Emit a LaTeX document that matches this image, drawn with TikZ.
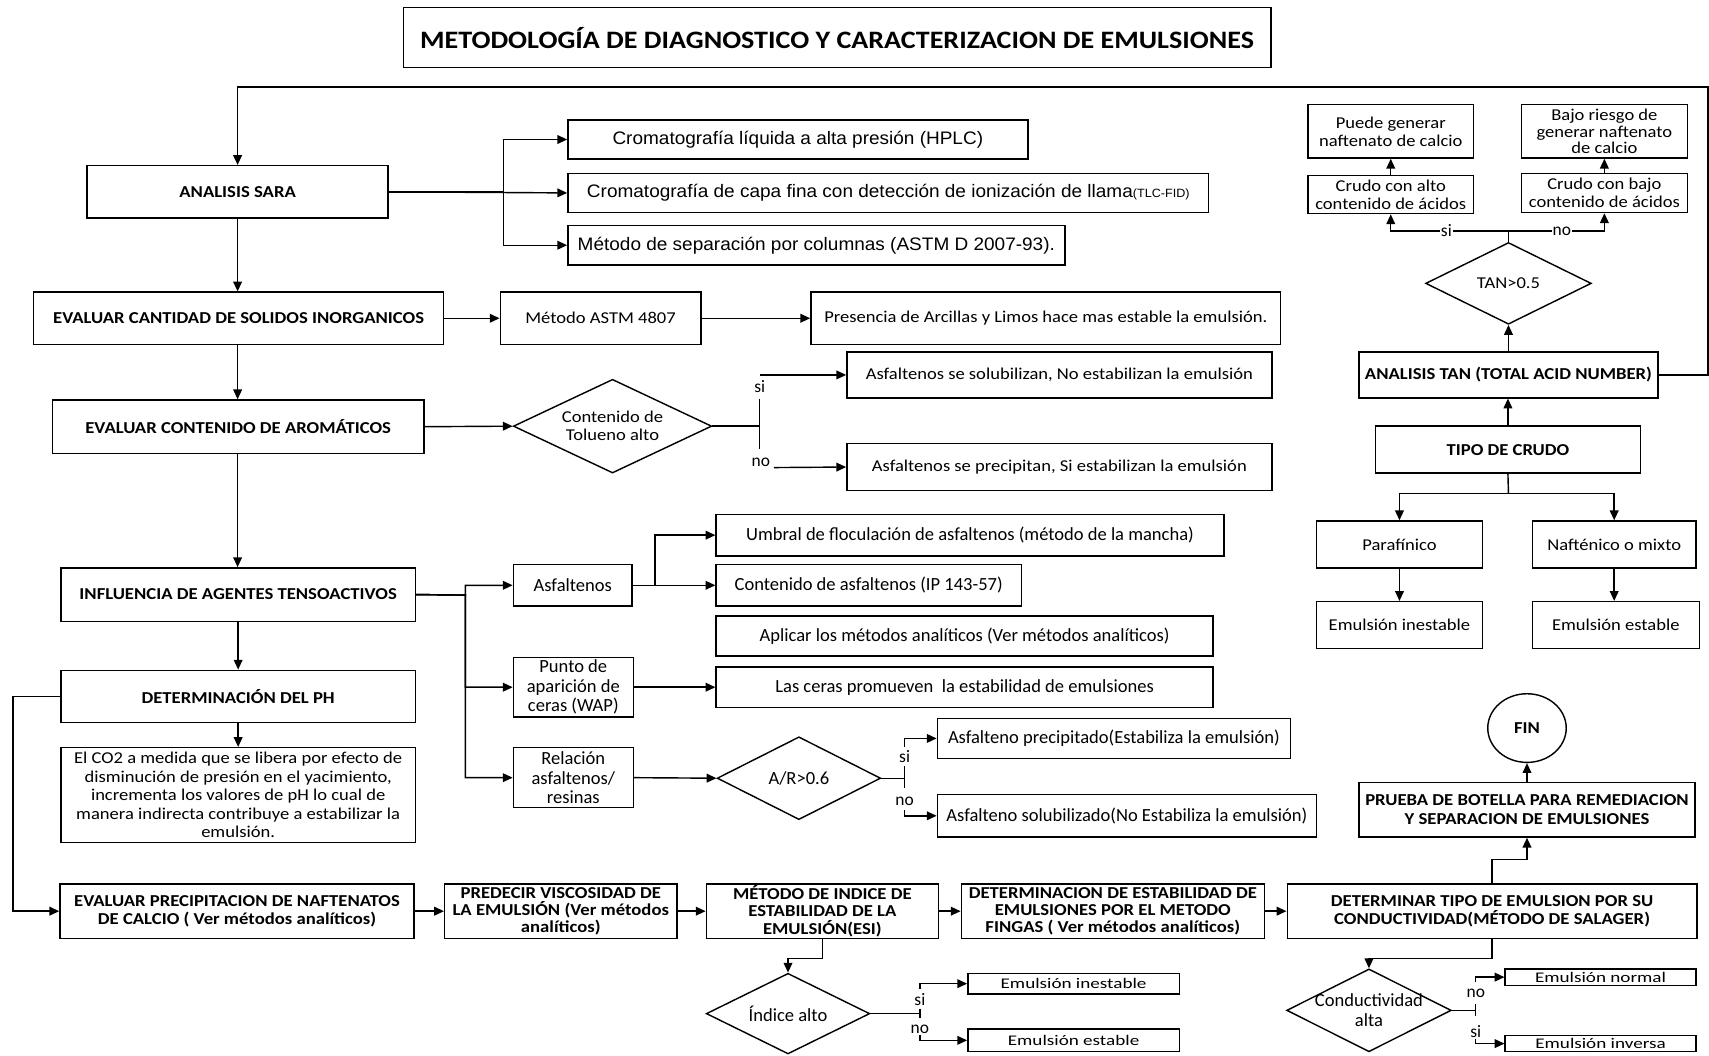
\documentclass[tikz,border=0pt]{standalone}
\usepackage{fontspec}
\setmainfont{Carlito}[FakeStretch=1.12]
\newfontfamily\arialn[FakeStretch=1.05]{Liberation Sans}
\newfontfamily\calcond{Carlito}
\newfontfamily\calwide[FakeStretch=1.3]{Carlito}
\usetikzlibrary{arrows.meta,shapes.geometric,calc}
\tikzset{
  bx/.style={draw, rectangle, line width=1.3pt, inner sep=0pt, align=center},
  dia/.style={draw, diamond, line width=1.3pt, inner sep=0pt},
  arr/.style={-{Triangle[length=9pt,width=8pt]}, line width=1.3pt},
  ln/.style={line width=1.3pt},
  bfs/.style={font=\fontsize{15.3}{17}\selectfont\bfseries},
  bft/.style={font=\fontsize{15.3}{15.8}\selectfont\bfseries},
  nrm/.style={font=\fontsize{15.2}{16.5}\selectfont},
  nrmb/.style={font=\fontsize{15.2}{17}\selectfont},
  cnd/.style={font=\calcond\fontsize{17}{18}\selectfont},
  wid/.style={font=\calwide\fontsize{13.5}{15}\selectfont},
  ari/.style={font=\arialn\fontsize{16.6}{19}\selectfont},
  lbl/.style={font=\calcond\fontsize{16}{18}\selectfont, inner sep=0pt},
  thin/.style={text height=9pt, text depth=0pt},
}
\newcommand{\bxn}[7][]{%
  \pgfmathsetmacro\bw{#5-#3}\pgfmathsetmacro\bh{#6-#4}%
  \pgfmathsetmacro\bcx{(#3+#5)/2}\pgfmathsetmacro\bcy{(#4+#6)/2}%
  \node[bx,#1,minimum width=\bw pt,minimum height=\bh pt] (#2) at (\bcx,\bcy) {#7};}
\newcommand{\dian}[7][]{%
  \node[dia,minimum width=#5pt,minimum height=#6pt] (#2) at (#3,#4) {};
  \node[#1, align=center, inner sep=0pt] (#2-t) at (#2.center) {#7};}
\begin{document}
\begin{tikzpicture}[x=1pt,y=-1pt]
\useasboundingbox (0,0) rectangle (1568,968);
% title
\bxn[font=\fontsize{23}{25}\selectfont\bfseries]{title}{370}{7}{1166}{62}{METODOLOGÍA DE DIAGNOSTICO Y CARACTERIZACION DE EMULSIONES}
% left column
\bxn[bfs]{sara}{80}{152}{356}{200}{ANALISIS SARA}
\bxn[bfs]{cant}{31}{268}{407}{316}{EVALUAR CANTIDAD DE SOLIDOS INORGANICOS}
\bxn[bfs]{arom}{48}{367}{389}{416}{EVALUAR CONTENIDO DE AROMÁTICOS}
\bxn[bfs]{infl}{56}{521}{381}{570}{INFLUENCIA DE AGENTES TENSOACTIVOS}
\bxn[bfs]{ph}{56}{615}{381}{663}{DETERMINACIÓN DEL PH}
\bxn[nrmb]{co2}{56}{686}{381}{773}{El CO2 a medida que se libera por efecto de\\disminución de presión en el yacimiento,\\incrementa los valores de pH lo cual de\\manera indirecta contribuye a estabilizar la\\emulsión.}
% SARA methods
\bxn[ari]{hplc}{521}{110}{943}{146}{Cromatografía líquida a alta presión (HPLC)}
\bxn[ari]{tlc}{521}{159}{1109}{195}{Cromatografía de capa fina con detección de ionización de llama{\fontsize{11}{12}\selectfont(TLC-FID)}}
\bxn[ari]{sep}{521}{207}{977}{243}{Método de separación por columnas (ASTM D 2007-93).}
% solids
\bxn[nrm]{astm}{459}{268}{643}{316}{Método ASTM 4807}
\bxn[nrm]{pres}{744}{268}{1175}{316}{Presencia de Arcillas y Limos hace mas estable la emulsión.}
% aromatics
\dian[nrm]{tol}{562}{391}{182}{86}{Contenido de\\Tolueno alto}
\bxn[nrm]{solub}{777}{323}{1167}{365}{Asfaltenos se solubilizan, No estabilizan la emulsión}
\bxn[nrm]{precp}{777}{407}{1167}{450}{Asfaltenos se precipitan, Si estabilizan la emulsión}
% tensoactivos
\bxn[cnd]{asf}{471}{518}{580}{556}{Asfaltenos}
\bxn[cnd]{umbral}{657}{472}{1123}{510}{Umbral de floculación de asfaltenos (método de la mancha)}
\bxn[cnd]{contasf}{657}{518}{937}{556}{Contenido de asfaltenos (IP 143-57)}
\bxn[cnd]{aplicar}{657}{565}{1113}{602}{Aplicar los métodos analíticos (Ver métodos analíticos)}
\bxn[cnd]{punto}{471}{603}{581}{658}{Punto de\\aparición de\\ceras (WAP)}
\bxn[cnd]{ceras}{657}{612}{1113}{649}{Las ceras promueven \ la estabilidad de emulsiones}
\bxn[cnd]{rel}{471}{686}{581}{741}{Relación\\asfaltenos/\\resinas}
\dian[cnd]{ar}{733}{714}{150}{76}{A/R>0.6}
\bxn[cnd]{aprec}{860}{659}{1184}{696}{Asfalteno precipitado(Estabiliza la emulsión)}
\bxn[cnd]{asol}{860}{729}{1208}{768}{Asfalteno solubilizado(No Estabiliza la emulsión)}
% bottom row
\bxn[bft]{precip}{55}{811}{380}{861}{EVALUAR PRECIPITACION DE NAFTENATOS\\DE CALCIO ( Ver métodos analíticos)}
\bxn[bft]{pred}{408}{811}{621}{861}{PREDECIR VISCOSIDAD DE\\LA EMULSIÓN (Ver métodos\\analíticos)}
\bxn[bft]{metodo}{648}{811}{861}{861}{MÉTODO DE INDICE DE\\ESTABILIDAD DE LA\\EMULSIÓN(ESI)}
\bxn[bft]{fingas}{882}{811}{1160}{861}{DETERMINACION DE ESTABILIDAD DE\\EMULSIONES POR EL METODO\\FINGAS ( Ver métodos analíticos)}
\bxn[bft]{tipo}{1181}{811}{1557}{861}{DETERMINAR TIPO DE EMULSION POR SU\\CONDUCTIVIDAD(MÉTODO DE SALAGER)}
\dian[cnd]{idx}{723}{930}{150}{74}{Índice alto}
\bxn[wid,thin]{einest}{888}{893}{1082}{912}{Emulsión inestable}
\bxn[wid,thin]{eest}{888}{944}{1082}{965}{Emulsión estable}
\dian[cnd]{cond}{1256}{927}{151}{76}{Conductividad\\alta}
\bxn[wid,thin]{enorm}{1381}{889}{1556}{904}{Emulsión normal}
\bxn[wid,thin]{einv}{1381}{950}{1556}{965}{Emulsión inversa}
% right side
\bxn[bfs]{tan}{1247}{323}{1521}{365}{ANALISIS TAN (TOTAL ACID NUMBER)}
\dian[nrm]{tand}{1384}{260}{152}{75}{TAN>0.5}
\bxn[nrm]{calto}{1200}{161}{1352}{196}{Crudo con alto\\contenido de ácidos}
\bxn[nrm]{puede}{1200}{96}{1352}{145}{Puede generar\\naftenato de calcio}
\bxn[nrm]{cbajo}{1396}{159}{1548}{195}{Crudo con bajo\\contenido de ácidos}
\bxn[font=\fontsize{15.2}{15.2}\selectfont]{bajo}{1396}{96}{1548}{145}{Bajo riesgo de\\generar naftenato\\de calcio}
\bxn[bfs]{tipoc}{1262}{391}{1505}{434}{TIPO DE CRUDO}
\bxn[nrm]{paraf}{1208}{478}{1360}{521}{Parafínico}
\bxn[nrm]{naft}{1406}{478}{1556}{521}{Nafténico o mixto}
\bxn[nrm]{rinest}{1208}{552}{1360}{595}{Emulsión inestable}
\bxn[nrm]{rest}{1406}{552}{1559}{595}{Emulsión estable}
\node[draw, ellipse, line width=1.3pt, minimum width=72pt, minimum height=63pt, inner sep=0pt, bfs] (fin) at (1401,668) {FIN};
\bxn[bfs]{prueba}{1247}{718}{1555}{768}{PRUEBA DE BOTELLA PARA REMEDIACION\\Y SEPARACION DE EMULSIONES}
% ---------- connectors
\draw[arr] (tan.east) -- (1567,344) -- (1567,80) -- (218,80) -- (sara.north);
\draw[arr] (sara.east) -- (tlc.west);
\draw[arr] (sara.east) -- (462,176) |- (hplc.west);
\draw[arr] (sara.east) -- (462,176) |- (sep.west);
\draw[arr] (sara.south) -- (cant.north -| sara.south);
\draw[arr] (cant.east) -- (astm.west);
\draw[arr] (astm.east) -- (pres.west);
\draw[arr] (cant.south -| sara.south) -- (arom.north -| sara.south);
\draw[arr] (arom.east) -- (tol.west);
\draw[ln] (tol.east) -- (697,391);
\draw[ln] (697,366) -- (697,412);
\node[lbl] (tsi) at (697,355) {si};
\node[lbl] (tno) at (698,424) {no};
\draw[arr] (697,344) -- (solub.west);
\draw[arr] (710,429) -- (precp.west);
\draw[arr] (arom.south -| sara.south) -- (infl.north -| sara.south);
\draw[arr] (infl.east) -- (427,546) |- (asf.west);
\draw[arr] (infl.east) -- (427,546) |- (punto.west);
\draw[arr] (infl.east) -- (427,546) |- (rel.west);
\draw[arr] (asf.east) -- (contasf.west);
\draw[arr] (asf.east) -- (601,537) |- (umbral.west);
\draw[arr] (punto.east) -- (ceras.west);
\draw[arr] (rel.east) -- (ar.west);
\draw[ln] (ar.east) -- (830,714);
\draw[ln] (830,703) -- (830,723);
\node[lbl] (asi) at (830,694) {si};
\node[lbl] (ano) at (830,735) {no};
\draw[arr] (830,685) -- (830,677.5) -- (aprec.west);
\draw[arr] (830,743) -- (830,748.5) -- (asol.west);
\draw[arr] (infl.south) -- (ph.north);
\draw[arr] (ph.south) -- (co2.north);
\draw[arr] (ph.west) -- (12,639) |- (precip.west);
\draw[arr] (precip.east) -- (pred.west);
\draw[arr] (pred.east) -- (metodo.west);
\draw[arr] (metodo.east) -- (fingas.west);
\draw[arr] (fingas.east) -- (tipo.west);
\draw[arr] (metodo.south) -- ++(0,18) -| (idx.north);
\draw[ln] (idx.east) -- (844,930);
\draw[ln] (844,926) -- (844,934);
\node[lbl] (isi) at (844,917) {si};
\node[lbl] (ino) at (844,944) {no};
\draw[arr] (844,907) -- (844,902.5) -- (einest.west);
\draw[arr] (844,950) -- (844,954.5) -- (eest.west);
\draw[arr] (tipo.south) -- ++(0,18) -| (cond.north);
\draw[ln] (cond.east) -- (1354,927);
\draw[ln] (1354,921) -- (1354,932);
\node[lbl] (cno) at (1354,911) {no};
\node[lbl] (csi) at (1354,946) {si};
\draw[arr] (1354,901) -- (1354,896.5) -- (enorm.west);
\draw[arr] (1354,953) -- (1354,957.5) -- (einv.west);
\draw[arr] (tipo.north) -- ++(0,-22) -| (prueba.south);
\draw[arr] (prueba.north) -- (fin.south);
% right side connectors
\draw[arr] (tipoc.north) -- (tan.south -| tipoc.north);
\draw[arr] (tan.north) -- (tand.south);
\draw[ln] (tand.north) -- (1384,212);
\draw[arr] (1384,212) -| (calto.south);
\draw[arr] (1384,212) -| (cbajo.south);
\node[lbl, fill=white, inner xsep=1pt] (rsi) at (1327,212) {si};
\node[lbl, fill=white, inner xsep=1pt] (rno) at (1433,212) {no};
\draw[arr] (calto.north) -- (puede.south);
\draw[arr] (cbajo.north) -- (bajo.south);
\draw[ln] (tipoc.south) -- (1384,453);
\draw[arr] (1384,453) -| (paraf.north);
\draw[arr] (1384,453) -| (naft.north);
\draw[arr] (paraf.south) -- (rinest.north);
\draw[arr] (naft.south) -- (rest.north -| naft.south);
\end{tikzpicture}
\end{document}
